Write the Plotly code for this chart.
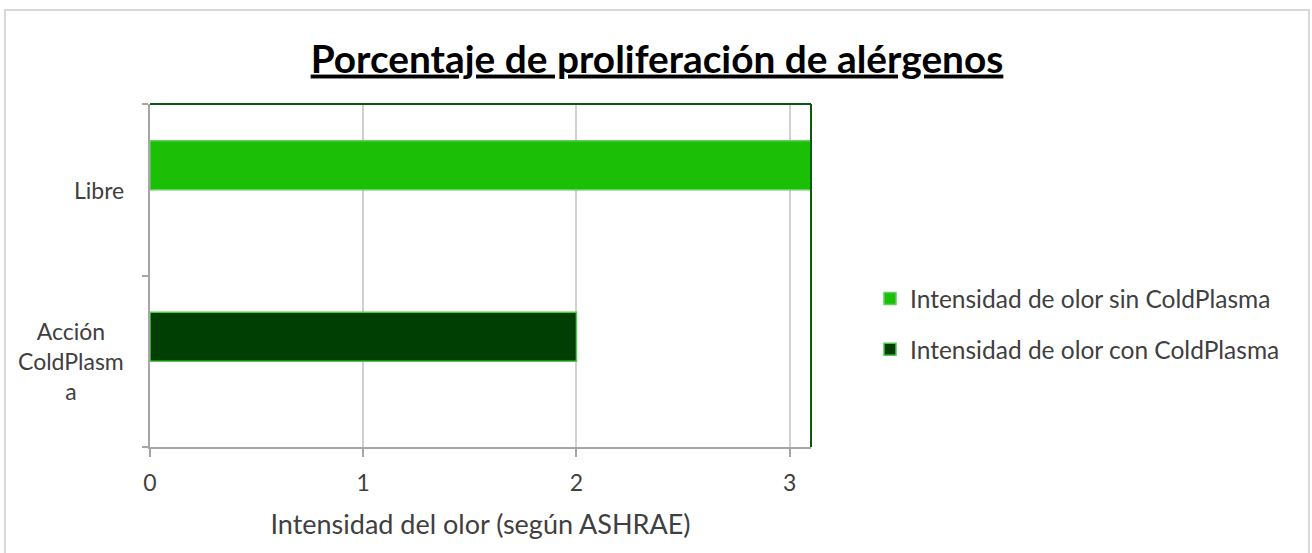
import plotly.graph_objects as go

# ---- data ----
categories = ["Libre", "Acción ColdPlasma"]
category_labels = ["Libre", "Acción<br>ColdPlasm<br>a"]
series_names = ["Intensidad de olor sin ColdPlasma", "Intensidad de olor con ColdPlasma"]
sin_values = [3.1, None]
con_values = [None, 2.0]
x_ticks = [0, 1, 2, 3]

title_text = "Porcentaje de proliferación de alérgenos"
x_title = "Intensidad del olor (según ASHRAE)"

FONT = "Lato"
TXT = "#404040"

W, H = 1312, 553
L, R, T, B = 150, 811, 104, 447

fig = go.Figure()
fig.add_trace(go.Bar(
    y=categories, x=sin_values, orientation="h", name=series_names[0],
    marker=dict(color="#1bbf06", line=dict(color="#5fd058", width=1.5)),
    offset=0, width=0.285, legendgroup="a",
))
fig.add_trace(go.Bar(
    y=categories, x=con_values, orientation="h", name=series_names[1],
    marker=dict(color="#003f03", line=dict(color="#4fc74a", width=1.5)),
    offset=0, width=0.285, legendgroup="b",
))

pw = R - L
ph = B - T

def px_x(v):
    return (v - L) / pw

def px_y(v):
    return (B - v) / ph

shapes = [
    dict(type="rect", xref="paper", yref="paper",
         x0=px_x(5), x1=px_x(1309), y0=px_y(620), y1=px_y(10),
         line=dict(color="#d9d9d9", width=2), fillcolor="rgba(0,0,0,0)", layer="below"),
    dict(type="line", xref="paper", yref="paper", x0=0, x1=1, y0=1, y1=1,
         line=dict(color="#0b5a0b", width=2)),
    dict(type="line", xref="paper", yref="paper", x0=1, x1=1, y0=0, y1=1,
         line=dict(color="#0b5a0b", width=2)),
]

annotations = []
for cat, lab in zip(categories, category_labels):
    annotations.append(dict(
        x=0, xref="paper", y=cat, yref="y", text=lab, showarrow=False,
        xanchor="right", yanchor="middle", align="center", xshift=-24,
        font=dict(family=FONT, size=23, color=TXT),
    ))

fig.update_layout(
    width=W, height=H,
    margin=dict(l=L, r=W - R, t=T, b=H - B, pad=0),
    paper_bgcolor="white", plot_bgcolor="white",
    barmode="overlay",
    showlegend=True,
    title=dict(text="<b><u>" + title_text + "</u></b>", x=657 / W, xanchor="center",
               y=1 - 59 / H, yanchor="middle",
               font=dict(family=FONT, size=38.8, color="black")),
    legend=dict(x=px_x(870), xanchor="left", y=px_y(324), yanchor="middle",
                font=dict(family=FONT, size=24.5, color=TXT),
                tracegroupgap=16, traceorder="grouped", itemclick=False,
                bgcolor="rgba(0,0,0,0)"),
    shapes=shapes,
    annotations=annotations,
)

fig.update_xaxes(
    range=[0, 3.1], tickvals=x_ticks, showgrid=True, gridcolor="#d0d0d0", gridwidth=1.5,
    showline=True, linecolor="#a6a6a6", linewidth=2,
    ticks="outside", ticklen=8, tickcolor="#a6a6a6", tickwidth=2,
    tickfont=dict(family=FONT, size=23, color=TXT), ticklabelstandoff=6,
    zeroline=False,
    title=dict(text=x_title, font=dict(family=FONT, size=27, color=TXT), standoff=21),
)
fig.update_yaxes(
    categoryorder="array", categoryarray=categories[::-1], range=[-0.5, 1.5],
    showgrid=False, showline=True, linecolor="#a6a6a6", linewidth=2,
    ticks="outside", ticklen=6, tickcolor="#a6a6a6", tickwidth=2, tickson="boundaries",
    showticklabels=False, zeroline=False,
)

fig.write_html("out.html", config={"displayModeBar": False},
               post_script="document.body.style.margin='0';")
